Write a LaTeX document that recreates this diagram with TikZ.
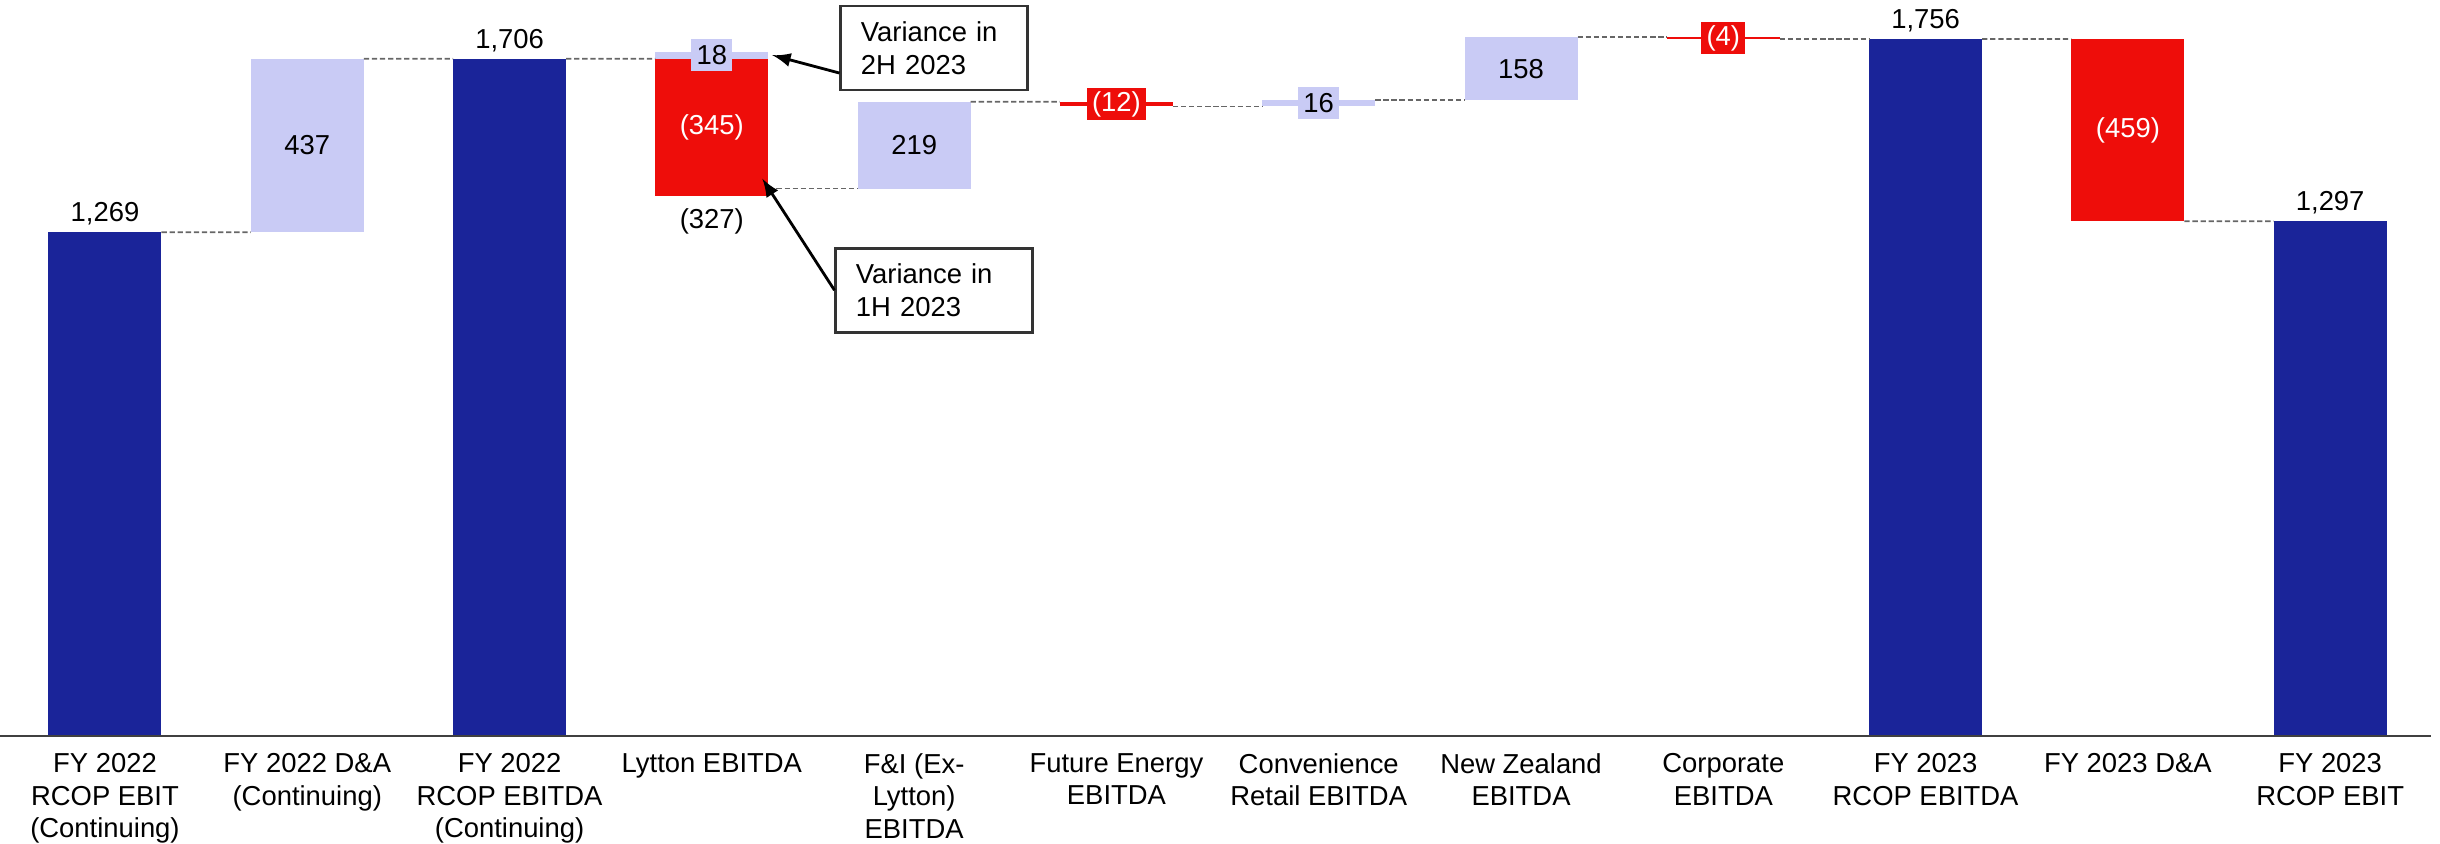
\documentclass[tikz,border=0pt]{standalone}
\usepackage{fontspec}
\setmainfont{Liberation Sans}
\usepackage{tikz}
\usetikzlibrary{arrows, positioning}
\definecolor{fyblue}{HTML}{1A2499}
\definecolor{fylav}{HTML}{C9CBF5}
\definecolor{fyred}{HTML}{EE0D0A}
\newcommand{\valunit}{0.0397mm}
\tikzstyle{bar} = [rectangle, inner sep=0pt, outer sep=0pt, minimum width=1.13cm, anchor=south]
\tikzstyle{total} = [bar, fill=fyblue]
\tikzstyle{rise} = [bar, fill=fylav]
\tikzstyle{fall} = [bar, fill=fyred]
\tikzstyle{val} = [inner sep=0pt]
\tikzstyle{tag} = [inner xsep=1.5pt, inner ysep=0pt, minimum height=0.32cm]
\tikzstyle{link} = [draw=black!60, line width=0.5pt, dash pattern=on 1.5pt off 0.8pt]
\tikzstyle{cat} = [align=center, inner sep=0pt]
\tikzstyle{note} = [draw=black!80, line width=0.8pt, align=left, text width=1.47cm, inner xsep=0.2cm, minimum height=0.84cm]
\tikzstyle{arr} = [draw=black, line width=0.8pt, -latex]

\begin{document}
\begin{tikzpicture}[x=2.023cm, y=\valunit, font=\fontsize{7.8}{9.2}\selectfont]
    \useasboundingbox (-0.519,-269.5) rectangle (11.543,1854);

        % Bars
        \node (b0) [total, minimum height=1269*\valunit] at (0,0) {};
        \node (b1) [rise, minimum height=437*\valunit] at (1,1269) {};
        \node (b2) [total, minimum height=1706*\valunit] at (2,0) {};
        \node (b3d) [fall, minimum height=345*\valunit] at (3,1361) {};
        \node (b3u) [rise, minimum height=18*\valunit] at (3,1706) {};
        \node (b4) [rise, minimum height=219*\valunit] at (4,1379) {};
        \node (b5) [fall, minimum height=12*\valunit] at (5,1586) {};
        \node (b6) [rise, minimum height=16*\valunit] at (6,1586) {};
        \node (b7) [rise, minimum height=158*\valunit] at (7,1602) {};
        \node (b8) [fall, minimum height=4*\valunit] at (8,1756) {};
        \node (b9) [total, minimum height=1756*\valunit] at (9,0) {};
        \node (b10) [fall, minimum height=459*\valunit] at (10,1297) {};
        \node (b11) [total, minimum height=1297*\valunit] at (11,0) {};

        % Axis
        \draw [black!75, line width=0.8pt] (-0.519,0) -- (11.498,0);

        % Connectors between bars
        \draw [link] (b0.north east) -- (b1.south west);
        \draw [link] (b1.north east) -- (b2.north west);
        \draw [link] (b2.north east) -- (b3d.north west);
        \draw [link] (b3d.east |- b4.south) -- (b4.south west);
        \draw [link] (b4.north east) -- (b5.north west);
        \draw [link] (b5.south east) -- (b6.south west);
        \draw [link] (b6.north east) -- (b7.south west);
        \draw [link] (b7.north east) -- (b8.north west);
        \draw [link] (b8.south east) -- (b9.north west);
        \draw [link] (b9.north east) -- (b10.north west);
        \draw [link] (b10.south east) -- (b11.north west);

        % Values
        \node (v0) [val, anchor=base, yshift=3pt] at (b0.north) {1,269};
        \node (v1) at (b1.center) {437};
        \node (v2) [val, anchor=base, yshift=3pt] at (b2.north) {1,706};
        \node (v3d) [text=white] at (b3d.center) {(345)};
        \node (v3u) [tag, fill=fylav] at (b3u.center) {18};
        \node (v3) [val, below=0.12cm] at (b3d.south) {(327)};
        \node (v4) at (b4.center) {219};
        \node (v5) [tag, fill=fyred, text=white] at (b5.center) {(12)};
        \node (v6) [tag, fill=fylav] at (b6.center) {16};
        \node (v7) at (b7.center) {158};
        \node (v8) [tag, fill=fyred, text=white] at (b8.center) {(4)};
        \node (v9) [val, anchor=base, yshift=3pt] at (b9.north) {1,756};
        \node (v10) [text=white] at (b10.center) {(459)};
        \node (v11) [val, anchor=base, yshift=3pt] at (b11.north) {1,297};

        % Categories
        \node (c0) [cat, below=0.17cm] at (0,0) {FY 2022\\RCOP EBIT\\(Continuing)};
        \node (c1) [cat, below=0.17cm] at (1,0) {FY 2022 D\&A\\(Continuing)};
        \node (c2) [cat, below=0.17cm] at (2,0) {FY 2022\\RCOP EBITDA\\(Continuing)};
        \node (c3) [cat, below=0.17cm] at (3,0) {Lytton EBITDA};
        \node (c4) [cat, below=0.17cm] at (4,0) {F\&I (Ex-\\Lytton)\\EBITDA};
        \node (c5) [cat, below=0.17cm] at (5,0) {Future Energy\\EBITDA};
        \node (c6) [cat, below=0.17cm] at (6,0) {Convenience\\Retail EBITDA};
        \node (c7) [cat, below=0.17cm] at (7,0) {New Zealand\\EBITDA};
        \node (c8) [cat, below=0.17cm] at (8,0) {Corporate\\EBITDA};
        \node (c9) [cat, below=0.17cm] at (9,0) {FY 2023\\RCOP EBITDA};
        \node (c10) [cat, below=0.17cm] at (10,0) {FY 2023 D\&A};
        \node (c11) [cat, below=0.17cm] at (11,0) {FY 2023\\RCOP EBIT};

        % Callouts
        \node (n2h) [note] at (4.100,1733) {Variance in\\2H 2023};
        \node (n1h) [note, text width=1.57cm] at (4.100,1123) {Variance in\\1H 2023};
        \draw [arr] ([yshift=-0.25cm]n2h.west) -- ([xshift=0.04cm]b3u.east);
        \draw [arr] (n1h.west) -- ([xshift=-0.06cm, yshift=0.17cm]b3d.south east);

    \end{tikzpicture}
\end{document}
